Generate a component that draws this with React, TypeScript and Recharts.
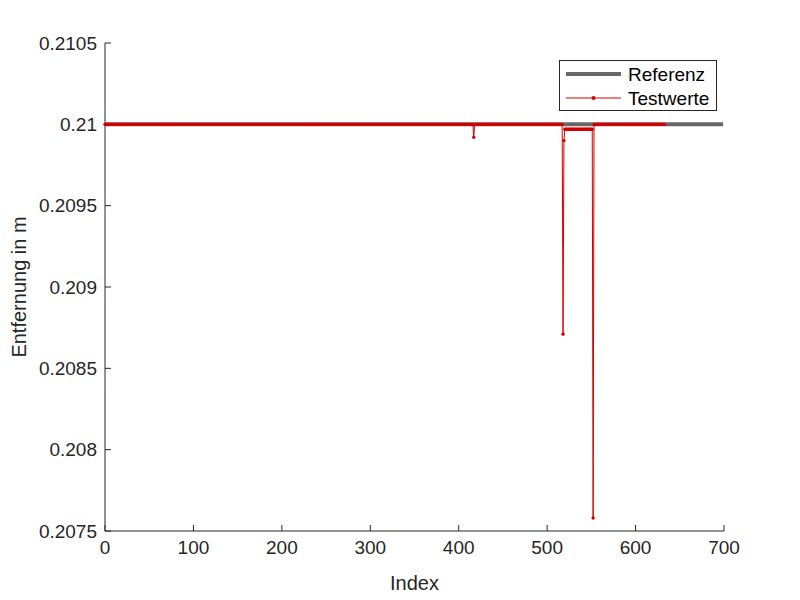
import { LineChart, Line, XAxis, YAxis, Legend } from "recharts";

// Referenz: constant reference distance (start / end of the line)
const refIndex = [0, 699];
const refValues = [0.21, 0.21];

// Testwerte: one measured value per index (0..633)
const testValues = [
  // 0 - 399
  0.21, 0.21, 0.21, 0.21, 0.21, 0.21, 0.21, 0.21, 0.21, 0.21, 0.21, 0.21, 0.21, 0.21, 0.21, 0.21, 0.21, 0.21, 0.21, 0.21,
  0.21, 0.21, 0.21, 0.21, 0.21, 0.21, 0.21, 0.21, 0.21, 0.21, 0.21, 0.21, 0.21, 0.21, 0.21, 0.21, 0.21, 0.21, 0.21, 0.21,
  0.21, 0.21, 0.21, 0.21, 0.21, 0.21, 0.21, 0.21, 0.21, 0.21, 0.21, 0.21, 0.21, 0.21, 0.21, 0.21, 0.21, 0.21, 0.21, 0.21,
  0.21, 0.21, 0.21, 0.21, 0.21, 0.21, 0.21, 0.21, 0.21, 0.21, 0.21, 0.21, 0.21, 0.21, 0.21, 0.21, 0.21, 0.21, 0.21, 0.21,
  0.21, 0.21, 0.21, 0.21, 0.21, 0.21, 0.21, 0.21, 0.21, 0.21, 0.21, 0.21, 0.21, 0.21, 0.21, 0.21, 0.21, 0.21, 0.21, 0.21,
  0.21, 0.21, 0.21, 0.21, 0.21, 0.21, 0.21, 0.21, 0.21, 0.21, 0.21, 0.21, 0.21, 0.21, 0.21, 0.21, 0.21, 0.21, 0.21, 0.21,
  0.21, 0.21, 0.21, 0.21, 0.21, 0.21, 0.21, 0.21, 0.21, 0.21, 0.21, 0.21, 0.21, 0.21, 0.21, 0.21, 0.21, 0.21, 0.21, 0.21,
  0.21, 0.21, 0.21, 0.21, 0.21, 0.21, 0.21, 0.21, 0.21, 0.21, 0.21, 0.21, 0.21, 0.21, 0.21, 0.21, 0.21, 0.21, 0.21, 0.21,
  0.21, 0.21, 0.21, 0.21, 0.21, 0.21, 0.21, 0.21, 0.21, 0.21, 0.21, 0.21, 0.21, 0.21, 0.21, 0.21, 0.21, 0.21, 0.21, 0.21,
  0.21, 0.21, 0.21, 0.21, 0.21, 0.21, 0.21, 0.21, 0.21, 0.21, 0.21, 0.21, 0.21, 0.21, 0.21, 0.21, 0.21, 0.21, 0.21, 0.21,
  0.21, 0.21, 0.21, 0.21, 0.21, 0.21, 0.21, 0.21, 0.21, 0.21, 0.21, 0.21, 0.21, 0.21, 0.21, 0.21, 0.21, 0.21, 0.21, 0.21,
  0.21, 0.21, 0.21, 0.21, 0.21, 0.21, 0.21, 0.21, 0.21, 0.21, 0.21, 0.21, 0.21, 0.21, 0.21, 0.21, 0.21, 0.21, 0.21, 0.21,
  0.21, 0.21, 0.21, 0.21, 0.21, 0.21, 0.21, 0.21, 0.21, 0.21, 0.21, 0.21, 0.21, 0.21, 0.21, 0.21, 0.21, 0.21, 0.21, 0.21,
  0.21, 0.21, 0.21, 0.21, 0.21, 0.21, 0.21, 0.21, 0.21, 0.21, 0.21, 0.21, 0.21, 0.21, 0.21, 0.21, 0.21, 0.21, 0.21, 0.21,
  0.21, 0.21, 0.21, 0.21, 0.21, 0.21, 0.21, 0.21, 0.21, 0.21, 0.21, 0.21, 0.21, 0.21, 0.21, 0.21, 0.21, 0.21, 0.21, 0.21,
  0.21, 0.21, 0.21, 0.21, 0.21, 0.21, 0.21, 0.21, 0.21, 0.21, 0.21, 0.21, 0.21, 0.21, 0.21, 0.21, 0.21, 0.21, 0.21, 0.21,
  0.21, 0.21, 0.21, 0.21, 0.21, 0.21, 0.21, 0.21, 0.21, 0.21, 0.21, 0.21, 0.21, 0.21, 0.21, 0.21, 0.21, 0.21, 0.21, 0.21,
  0.21, 0.21, 0.21, 0.21, 0.21, 0.21, 0.21, 0.21, 0.21, 0.21, 0.21, 0.21, 0.21, 0.21, 0.21, 0.21, 0.21, 0.21, 0.21, 0.21,
  0.21, 0.21, 0.21, 0.21, 0.21, 0.21, 0.21, 0.21, 0.21, 0.21, 0.21, 0.21, 0.21, 0.21, 0.21, 0.21, 0.21, 0.21, 0.21, 0.21,
  0.21, 0.21, 0.21, 0.21, 0.21, 0.21, 0.21, 0.21, 0.21, 0.21, 0.21, 0.21, 0.21, 0.21, 0.21, 0.21, 0.21, 0.21, 0.21, 0.21,
  // 400 - 419 (dip at 417)
  0.21, 0.21, 0.21, 0.21, 0.21, 0.21, 0.21, 0.21, 0.21, 0.21, 0.21, 0.21, 0.21, 0.21, 0.21, 0.21, 0.21, 0.20992, 0.21, 0.21,
  // 420 - 499
  0.21, 0.21, 0.21, 0.21, 0.21, 0.21, 0.21, 0.21, 0.21, 0.21, 0.21, 0.21, 0.21, 0.21, 0.21, 0.21, 0.21, 0.21, 0.21, 0.21,
  0.21, 0.21, 0.21, 0.21, 0.21, 0.21, 0.21, 0.21, 0.21, 0.21, 0.21, 0.21, 0.21, 0.21, 0.21, 0.21, 0.21, 0.21, 0.21, 0.21,
  0.21, 0.21, 0.21, 0.21, 0.21, 0.21, 0.21, 0.21, 0.21, 0.21, 0.21, 0.21, 0.21, 0.21, 0.21, 0.21, 0.21, 0.21, 0.21, 0.21,
  0.21, 0.21, 0.21, 0.21, 0.21, 0.21, 0.21, 0.21, 0.21, 0.21, 0.21, 0.21, 0.21, 0.21, 0.21, 0.21, 0.21, 0.21, 0.21, 0.21,
  // 500 - 519 (dips at 518, 519)
  0.21, 0.21, 0.21, 0.21, 0.21, 0.21, 0.21, 0.21, 0.21, 0.21, 0.21, 0.21, 0.21, 0.21, 0.21, 0.21, 0.21, 0.21, 0.20871, 0.2099,
  // 520 - 539
  0.20997, 0.20997, 0.20997, 0.20997, 0.20997, 0.20997, 0.20997, 0.20997, 0.20997, 0.20997,
  0.20997, 0.20997, 0.20997, 0.20997, 0.20997, 0.20997, 0.20997, 0.20997, 0.20997, 0.20997,
  // 540 - 559 (big dip at 552)
  0.20997, 0.20997, 0.20997, 0.20997, 0.20997, 0.20997, 0.20997, 0.20997, 0.20997, 0.20997,
  0.20997, 0.20997, 0.20758, 0.21, 0.21, 0.21, 0.21, 0.21, 0.21, 0.21,
  // 560 - 619
  0.21, 0.21, 0.21, 0.21, 0.21, 0.21, 0.21, 0.21, 0.21, 0.21, 0.21, 0.21, 0.21, 0.21, 0.21, 0.21, 0.21, 0.21, 0.21, 0.21,
  0.21, 0.21, 0.21, 0.21, 0.21, 0.21, 0.21, 0.21, 0.21, 0.21, 0.21, 0.21, 0.21, 0.21, 0.21, 0.21, 0.21, 0.21, 0.21, 0.21,
  0.21, 0.21, 0.21, 0.21, 0.21, 0.21, 0.21, 0.21, 0.21, 0.21, 0.21, 0.21, 0.21, 0.21, 0.21, 0.21, 0.21, 0.21, 0.21, 0.21,
  // 620 - 633
  0.21, 0.21, 0.21, 0.21, 0.21, 0.21, 0.21, 0.21, 0.21, 0.21, 0.21, 0.21, 0.21, 0.21,
];

const xTicks = [0, 100, 200, 300, 400, 500, 600, 700];
const yTicks = [0.2075, 0.208, 0.2085, 0.209, 0.2095, 0.21, 0.2105];

const AXIS = "#262626";
const REF_COLOR = "#686868";
const TEST_COLOR = "#d40000";
const FONT = "'Liberation Sans', Arial, Helvetica, sans-serif";

const refData = refIndex.map((idx, i) => ({ idx, ref: refValues[i] }));
const testData = testValues.map((v, i) => ({ idx: i, test: v }));

const formatY = (v: number) => String(parseFloat(v.toFixed(4)));

// MATLAB-style boxed legend
const LegendBox = () => (
  <svg width={158} height={51} style={{ display: "block" }}>
    <rect x={0.5} y={0.5} width={157} height={50} fill="#fff" stroke={AXIS} strokeWidth={1} />
    <line x1={7} x2={62} y1={14} y2={14} stroke={REF_COLOR} strokeWidth={4} />
    <text x={69} y={20.5} fontSize={19} fontFamily={FONT} fill="#000">Referenz</text>
    <line x1={7} x2={62} y1={38} y2={38} stroke={TEST_COLOR} strokeWidth={1} />
    <circle cx={34.5} cy={38} r={2} fill={TEST_COLOR} />
    <text x={69} y={44.5} fontSize={19} fontFamily={FONT} fill="#000">Testwerte</text>
  </svg>
);

export default function App() {
  return (
    <div style={{ position: "absolute", left: 0, top: 0, width: 800, height: 600, background: "#fff" }}>
      <LineChart width={800} height={600} margin={{ top: 43, right: 76, left: 0, bottom: 0 }}>
        <XAxis
          type="number"
          dataKey="idx"
          domain={[0, 700]}
          ticks={xTicks}
          allowDecimals={false}
          height={69}
          tickSize={-6}
          tickMargin={16}
          stroke={AXIS}
          axisLine={{ stroke: AXIS }}
          tickLine={{ stroke: AXIS }}
          tick={{ fill: AXIS, fontSize: 19, fontFamily: FONT }}
          label={{ value: "Index", position: "insideBottom", offset: 10, fill: AXIS, fontSize: 20, fontFamily: FONT }}
        />
        <YAxis
          type="number"
          domain={[0.2075, 0.2105]}
          ticks={yTicks}
          width={105}
          tickSize={-6}
          tickMargin={14}
          tickFormatter={formatY}
          stroke={AXIS}
          axisLine={{ stroke: AXIS }}
          tickLine={{ stroke: AXIS }}
          tick={{ fill: AXIS, fontSize: 19, fontFamily: FONT }}
          label={{
            value: "Entfernung in m",
            angle: -90,
            position: "insideLeft",
            offset: 19,
            fill: AXIS,
            fontSize: 20,
            fontFamily: FONT,
            style: { textAnchor: "middle" },
          }}
        />
        <Legend
          layout="horizontal"
          verticalAlign="middle"
          align="center"
          content={() => <LegendBox />}
          wrapperStyle={{ position: "absolute", left: 559, top: 60, width: 158, height: 51 }}
        />
        <Line
          data={refData}
          dataKey="ref"
          name="Referenz"
          type="linear"
          stroke={REF_COLOR}
          strokeWidth={4}
          dot={false}
          activeDot={false}
          isAnimationActive={false}
        />
        <Line
          data={testData}
          dataKey="test"
          name="Testwerte"
          type="linear"
          stroke={TEST_COLOR}
          strokeWidth={1}
          dot={{ r: 1.7, fill: TEST_COLOR, stroke: "none" }}
          activeDot={false}
          isAnimationActive={false}
        />
      </LineChart>
    </div>
  );
}
